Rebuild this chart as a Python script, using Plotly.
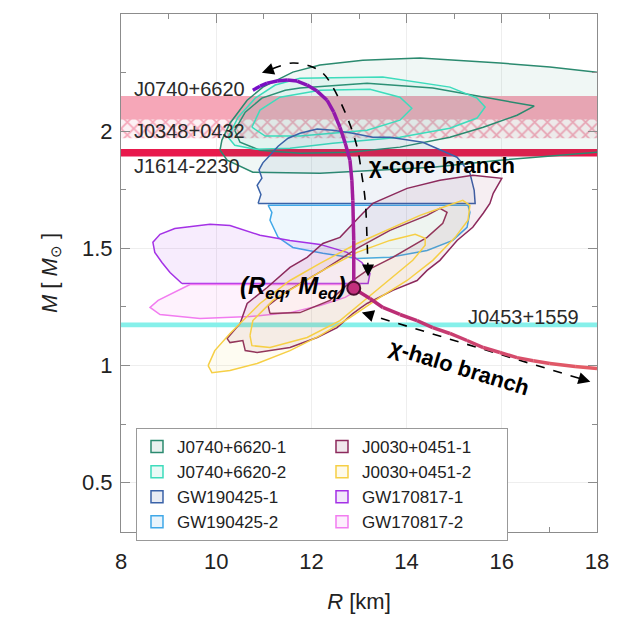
import plotly.graph_objects as go

FONT = "Liberation Sans, Arial, sans-serif"

# ---------------- data ----------------
R_SPAN = [8, 18]
band_names = ["J0740+6620", "J0348+0432", "J1614-2230", "J0453+1559"]
band_lo = [2.01, 1.97, 1.892, 1.164]
band_hi = [2.15, 2.05, 1.924, 1.184]

# J0740+6620-1 (outer, inner)
j0740_1_out_R = [10.08, 10.12, 10.29, 10.65, 10.98, 11.61, 12.18, 13.08, 14.28, 15.96, 17.01, 18.0, 18.4, 18.4, 18.0, 15.96, 14.55, 12.18, 10.77, 10.23]
j0740_1_out_M = [1.919, 1.962, 2.034, 2.132, 2.188, 2.252, 2.282, 2.303, 2.312, 2.291, 2.274, 2.252, 2.248, 1.915, 1.910, 1.876, 1.846, 1.821, 1.825, 1.876]
j0740_1_in_R = [10.39, 10.61, 10.96, 11.45, 11.76, 13.17, 14.55, 15.96, 16.68, 16.32, 15.61, 14.91, 13.86, 12.81, 11.76, 10.92, 10.50]
j0740_1_in_M = [2.004, 2.081, 2.141, 2.175, 2.184, 2.205, 2.184, 2.132, 2.107, 2.068, 2.017, 1.974, 1.932, 1.910, 1.906, 1.919, 1.953]
# J0740+6620-2 (outer, inner)
j0740_2_out_R = [10.25, 10.46, 10.82, 11.24, 11.76, 13.50, 14.91, 15.48, 15.65, 15.48, 14.91, 13.86, 12.45, 11.55, 10.82, 10.39]
j0740_2_out_M = [1.974, 2.060, 2.141, 2.197, 2.226, 2.231, 2.188, 2.141, 2.103, 2.056, 2.013, 1.974, 1.949, 1.927, 1.923, 1.940]
j0740_2_in_R = [10.75, 10.92, 11.34, 12.18, 13.23, 13.86, 14.11, 13.86, 13.17, 11.76, 11.03]
j0740_2_in_M = [2.017, 2.090, 2.145, 2.175, 2.179, 2.145, 2.098, 2.047, 2.004, 1.979, 1.979]
# GW190425
gw190425_1_R = [10.88, 10.94, 10.86, 10.96, 10.90, 10.98, 11.13, 11.30, 11.51, 11.76, 12.12, 12.45, 12.87, 13.29, 13.65, 14.34, 15.06, 15.33, 15.42, 15.44]
gw190425_1_M = [1.692, 1.730, 1.769, 1.800, 1.835, 1.865, 1.897, 1.936, 1.970, 1.991, 2.009, 2.004, 1.991, 1.974, 1.974, 1.953, 1.889, 1.821, 1.748, 1.692]
gw190425_2_R = [11.09, 11.17, 11.13, 11.21, 11.30, 11.61, 12.24, 12.96, 13.65, 14.43, 14.97, 15.27, 15.33, 15.29]
gw190425_2_M = [1.684, 1.654, 1.620, 1.585, 1.547, 1.504, 1.479, 1.457, 1.462, 1.491, 1.534, 1.590, 1.654, 1.684]
# GW170817
gw170817_1_R = [9.28, 9.03, 8.86, 8.71, 8.67, 8.82, 9.13, 9.87, 10.29, 10.92, 11.55, 12.18, 12.75, 13.06, 13.23, 13.19]
gw170817_1_M = [1.350, 1.397, 1.440, 1.483, 1.526, 1.560, 1.585, 1.603, 1.598, 1.556, 1.534, 1.517, 1.483, 1.440, 1.393, 1.350]
gw170817_2_R = [9.45, 9.13, 8.78, 8.61, 8.82, 9.66, 10.71, 11.55, 12.18, 12.71, 12.96, 13.02]
gw170817_2_M = [1.346, 1.312, 1.278, 1.248, 1.218, 1.201, 1.209, 1.226, 1.256, 1.291, 1.321, 1.346]
# J0030+0451-1 (outer, inner)
j0030_1_out_R = [10.50, 10.23, 10.29, 10.56, 10.61, 10.86, 11.55, 12.12, 12.54, 12.87, 13.02, 13.17, 13.71, 14.22, 14.43, 14.70, 15.06, 15.39, 15.61, 15.75, 15.82, 16.00, 15.39, 14.70, 14.01, 13.29, 13.08, 12.60, 12.24, 11.91, 11.55, 11.07, 10.65]
j0030_1_out_M = [1.179, 1.115, 1.098, 1.107, 1.064, 1.056, 1.077, 1.120, 1.162, 1.222, 1.244, 1.265, 1.321, 1.363, 1.406, 1.449, 1.534, 1.590, 1.650, 1.692, 1.735, 1.799, 1.812, 1.791, 1.756, 1.692, 1.650, 1.547, 1.521, 1.462, 1.419, 1.333, 1.265]
j0030_1_in_R = [11.13, 11.09, 11.45, 12.24, 12.96, 13.65, 14.43, 14.70, 14.85, 14.76, 14.43, 13.71, 13.17, 12.81, 12.39, 11.76]
j0030_1_in_M = [1.222, 1.256, 1.312, 1.406, 1.500, 1.577, 1.641, 1.671, 1.654, 1.607, 1.547, 1.462, 1.406, 1.355, 1.278, 1.226]
# J0030+0451-2 (outer, inner)
j0030_2_out_R = [9.83, 9.97, 10.29, 10.92, 11.55, 12.18, 12.96, 13.65, 14.28, 14.81, 15.18, 15.33, 15.29, 15.02, 14.55, 14.01, 13.44, 12.81, 12.18, 11.55, 10.86, 10.29, 9.91]
j0030_2_out_M = [1.000, 1.064, 1.137, 1.265, 1.363, 1.436, 1.521, 1.585, 1.641, 1.679, 1.705, 1.684, 1.620, 1.547, 1.449, 1.363, 1.291, 1.205, 1.128, 1.064, 1.009, 0.979, 0.970]
j0030_2_in_R = [10.71, 10.77, 11.19, 12.24, 12.96, 13.65, 14.18, 14.39, 14.39, 14.13, 13.44, 12.60, 11.91, 11.13, 10.75]
j0030_2_in_M = [1.128, 1.192, 1.278, 1.406, 1.483, 1.534, 1.560, 1.543, 1.513, 1.449, 1.333, 1.192, 1.120, 1.077, 1.085]

# chi-core and chi-halo branches
core_R = [10.77, 10.92, 11.07, 11.28, 11.49, 11.70, 11.91, 12.12, 12.33, 12.47, 12.60, 12.71, 12.81, 12.85, 12.87, 12.89, 12.89]
core_M = [2.175, 2.192, 2.205, 2.214, 2.218, 2.214, 2.197, 2.171, 2.132, 2.081, 2.017, 1.949, 1.876, 1.791, 1.705, 1.534, 1.333]
halo_R = [12.89, 13.23, 13.50, 13.86, 14.22, 14.55, 14.91, 15.27, 15.61, 15.96, 16.32, 16.66, 17.01, 17.54, 18.0]
halo_M = [1.329, 1.286, 1.248, 1.218, 1.192, 1.162, 1.137, 1.107, 1.077, 1.056, 1.034, 1.021, 1.009, 0.996, 0.987]
R_eq, M_eq = 12.89, 1.33

# dashed guide arrows
arc_R = [13.19, 13.17, 13.13, 13.06, 12.96, 12.75, 12.45, 12.24, 11.97, 11.61, 11.28, 11.02]
arc_M = [1.40, 1.534, 1.705, 1.812, 1.932, 2.060, 2.188, 2.248, 2.278, 2.291, 2.274, 2.252]
halo_arrow_R = [13.10, 17.80]
halo_arrow_M = [1.224, 0.935]

x_ticks = [8, 10, 12, 14, 16, 18]
y_ticks = [0.5, 1, 1.5, 2, 2.5]

# ---------------- figure ----------------
fig = go.Figure()

# horizontal bands
band_style = [
    dict(fillcolor="#f6a7b8"),
    dict(fillcolor="#fcf0f3", fillpattern=dict(shape="x", fgcolor="#ef5a7c", bgcolor="#fcf1f4", size=9, solidity=0.35)),
    dict(fillcolor="#e8194c"),
    dict(fillcolor="#86f0ea"),
]
for name, lo, hi, st in zip(band_names, band_lo, band_hi, band_style):
    fig.add_trace(go.Scatter(
        x=[R_SPAN[0], R_SPAN[1], R_SPAN[1], R_SPAN[0], R_SPAN[0]],
        y=[lo, lo, hi, hi, lo], mode="lines", fill="toself",
        line=dict(width=0), showlegend=False, hoverinfo="skip", name=name, **st))


def joined(parts):
    xs, ys = [], []
    for r, m in parts:
        if xs:
            xs.append(None); ys.append(None)
        xs += list(r) + [r[0]]
        ys += list(m) + [m[0]]
    return xs, ys


# name, contours, line colour, fill colour, legend swatch fill, legend rank
contours = [
    ("J0740+6620-1", [(j0740_1_out_R, j0740_1_out_M), (j0740_1_in_R, j0740_1_in_M)], "#2b8a6f", "rgba(43,138,111,0.07)", "#e9f1ef", 1),
    ("J0740+6620-2", [(j0740_2_out_R, j0740_2_out_M), (j0740_2_in_R, j0740_2_in_M)], "#3ddcbc", "rgba(61,220,188,0.08)", "#e8faf6", 3),
    ("GW190425-1", [(gw190425_1_R, gw190425_1_M)], "#3a62a8", "rgba(58,98,168,0.08)", "#e8ecf4", 5),
    ("GW190425-2", [(gw190425_2_R, gw190425_2_M)], "#3fa8e8", "rgba(63,168,232,0.09)", "#e9f4fc", 7),
    ("GW170817-1", [(gw170817_1_R, gw170817_1_M)], "#a431e6", "rgba(164,49,230,0.09)", "#f2e8fa", 6),
    ("GW170817-2", [(gw170817_2_R, gw170817_2_M)], "#f27cf0", "rgba(242,124,240,0.10)", "#fdeefd", 8),
    ("J0030+0451-1", [(j0030_1_out_R, j0030_1_out_M), (j0030_1_in_R, j0030_1_in_M)], "#8c2a5c", "rgba(140,42,92,0.08)", "#f1e8ec", 2),
    ("J0030+0451-2", [(j0030_2_out_R, j0030_2_out_M), (j0030_2_in_R, j0030_2_in_M)], "#f6cf45", "rgba(246,207,69,0.07)", "#fefaea", 4),
]
for name, parts, lc, fc, swatch, rank in contours:
    xs, ys = joined(parts)
    fig.add_trace(go.Scatter(x=xs, y=ys, mode="lines", fill="toself", fillcolor=fc,
                             line=dict(color=lc, width=1.5), name=name,
                             showlegend=False, hoverinfo="skip"))
    # legend swatch (filled, outlined box)
    fig.add_trace(go.Bar(x=[None], y=[None], name=name, legendrank=rank,
                         marker=dict(color=swatch, line=dict(color=lc, width=1.5)), hoverinfo="skip"))


def lerp_color(c1, c2, t):
    return "rgb(%d,%d,%d)" % tuple(round(a + (b - a) * t) for a, b in zip(c1, c2))


def gradient_line(R, M, c1, c2, width):
    n = len(R) - 1
    for i in range(n):
        fig.add_trace(go.Scatter(x=R[i:i + 2], y=M[i:i + 2], mode="lines",
                                 line=dict(color=lerp_color(c1, c2, i / max(n - 1, 1)), width=width),
                                 showlegend=False, hoverinfo="skip"))


# dashed guides
fig.add_trace(go.Scatter(x=arc_R, y=arc_M, mode="lines", line=dict(color="black", width=1.6, dash="dash", shape="spline"),
                         showlegend=False, hoverinfo="skip"))
fig.add_trace(go.Scatter(x=halo_arrow_R, y=halo_arrow_M, mode="lines", line=dict(color="black", width=1.6, dash="dash"),
                         showlegend=False, hoverinfo="skip"))

gradient_line(core_R, core_M, (118, 14, 200), (168, 32, 150), 3.5)
gradient_line(halo_R, halo_M, (180, 38, 120), (228, 92, 102), 3.5)

fig.add_trace(go.Scatter(x=[R_eq], y=[M_eq], mode="markers",
                         marker=dict(size=13, color="#c2307c", line=dict(color="#4a0f2e", width=2)),
                         showlegend=False, hoverinfo="skip"))

# ---------------- annotations ----------------
ann = []
lab_font = dict(family=FONT, size=20, color="#2a2a2a")
ann.append(dict(x=8.24, y=2.182, text="J0740+6620", xanchor="left", yanchor="middle", showarrow=False, font=lab_font))
ann.append(dict(x=8.24, y=2.002, text="J0348+0432", xanchor="left", yanchor="middle", showarrow=False, font=lab_font))
ann.append(dict(x=8.24, y=1.850, text="J1614-2230", xanchor="left", yanchor="middle", showarrow=False, font=lab_font))
ann.append(dict(x=17.66, y=1.209, text="J0453+1559", xanchor="right", yanchor="middle", showarrow=False, font=lab_font))
bold_font = dict(family=FONT, size=22, color="black")
ann.append(dict(x=13.17, y=1.855, text="<b>χ-core branch</b>", xanchor="left", yanchor="middle", showarrow=False, font=bold_font))
ann.append(dict(x=15.12, y=0.99, text="<b>χ-halo branch</b>", xanchor="center", yanchor="middle", textangle=17,
                showarrow=False, font=bold_font))
ann.append(dict(x=12.76, y=1.335, text="<b><i>(R<sub>eq</sub>, M<sub>eq</sub>)</i></b>", xanchor="right", yanchor="middle",
                showarrow=False, font=dict(family=FONT, size=24, color="black")))

# arrow heads
heads = [((10.96, 2.249), (11.14, 2.262)), ((13.19, 1.380), (13.19, 1.43)),
         ((13.06, 1.227), (13.30, 1.212)), ((17.86, 0.931), (17.60, 0.947))]
for (hx, hy), (tx, ty) in heads:
    ann.append(dict(x=hx, y=hy, ax=tx, ay=ty, axref="x", ayref="y", xref="x", yref="y", text="",
                    showarrow=True, arrowhead=2, arrowsize=1.5, arrowwidth=1.6, arrowcolor="black", standoff=0))

axis_common = dict(showline=True, linecolor="#8c8c8c", linewidth=1, mirror="allticks", ticks="inside",
                   ticklen=9, tickcolor="#8c8c8c", showgrid=True, gridcolor="#eeeeee", gridwidth=1,
                   zeroline=False, automargin=False, tickfont=dict(family=FONT, size=22, color="#222"))

fig.update_layout(
    width=636, height=620,
    margin=dict(l=113, r=47, t=6, b=96, autoexpand=False),
    plot_bgcolor="white", paper_bgcolor="white",
    font=dict(family=FONT, color="#222"),
    annotations=ann,
    xaxis=dict(range=[8, 18], tickvals=x_ticks, ticklabelstandoff=10,
               minor=dict(dtick=1, tick0=8, ticks="inside", ticklen=5, tickcolor="#8c8c8c", showgrid=False),
               title=dict(text="<i>R</i> [km]", font=dict(family=FONT, size=22, color="#222"), standoff=20),
               **axis_common),
    yaxis=dict(range=[0.29, 2.5], tickvals=y_ticks, ticklabelstandoff=3,
               minor=dict(dtick=0.25, tick0=0, ticks="inside", ticklen=5, tickcolor="#8c8c8c", showgrid=False),
               title=dict(text="<i>M</i> [ <i>M</i><sub>⊙</sub> ]", font=dict(family=FONT, size=22, color="#222"), standoff=18),
               **axis_common),
    legend=dict(x=0.0315, y=0.2008, xanchor="left", yanchor="top", orientation="h", entrywidth=140,
                tracegroupgap=0, bgcolor="white", bordercolor="#999", borderwidth=1,
                font=dict(family=FONT, size=17, color="#222"), itemclick=False),
    showlegend=True,
)

fig.write_html("out.html")
